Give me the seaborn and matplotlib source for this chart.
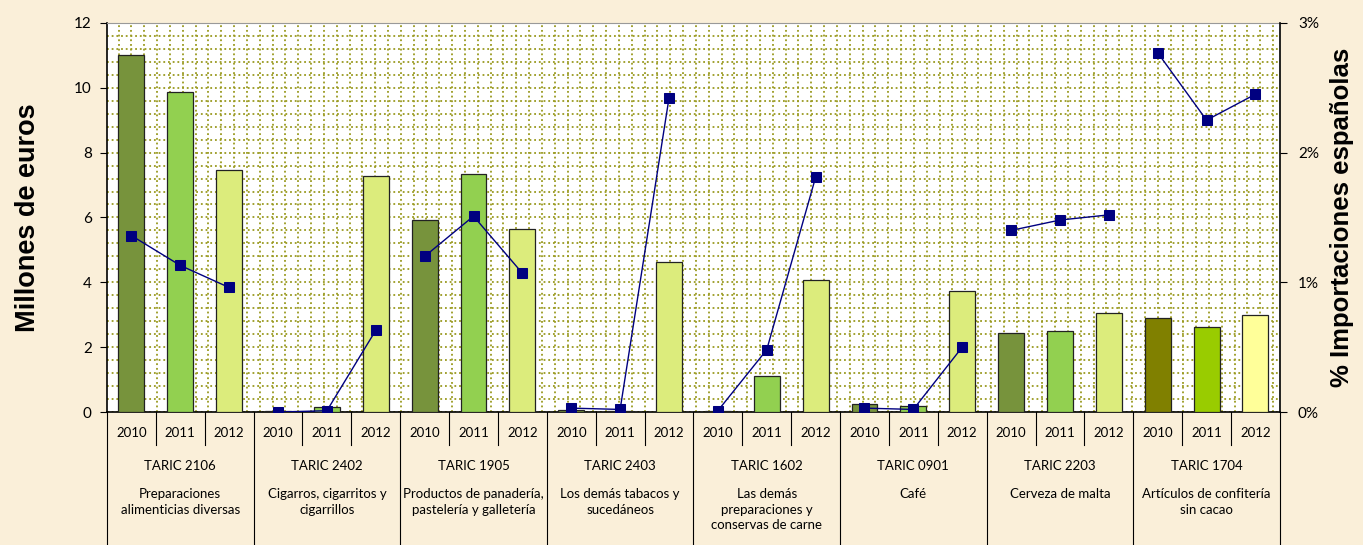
import matplotlib
matplotlib.use("Agg")
import matplotlib.pyplot as plt
import matplotlib.transforms as mtransforms
from matplotlib.ticker import MultipleLocator, FuncFormatter
import pandas as pd
import seaborn as sns

years = ["2010", "2011", "2012"]
taric = ["TARIC 2106", "TARIC 2402", "TARIC 1905", "TARIC 2403",
         "TARIC 1602", "TARIC 0901", "TARIC 2203", "TARIC 1704"]
descr = ["Preparaciones\nalimenticias diversas",
         "Cigarros, cigarritos y\ncigarrillos",
         "Productos de panadería,\npastelería y galletería",
         "Los demás tabacos y\nsucedáneos",
         "Las demás\npreparaciones y\nconservas de carne",
         "Café",
         "Cerveza de malta",
         "Artículos de confitería\nsin cacao"]

# millones de euros, 2010/2011/2012 per TARIC
millones = [11.0, 9.88, 7.47,
            0.02, 0.15, 7.28,
            5.93, 7.35, 5.65,
            0.05, 0.03, 4.63,
            0.02, 1.11, 4.07,
            0.25, 0.20, 3.73,
            2.44, 2.50, 3.06,
            2.90, 2.62, 2.99]

# % importaciones españolas
pct = [1.36, 1.13, 0.96,
       0.00, 0.01, 0.63,
       1.20, 1.51, 1.07,
       0.03, 0.02, 2.42,
       0.01, 0.48, 1.81,
       0.03, 0.02, 0.50,
       1.40, 1.48, 1.52,
       2.77, 2.25, 2.45]

bar_colors = ["#77933C", "#92D050", "#DCEC7C"] * 7 + ["#808000", "#99CC00", "#FFFF99"]

n = len(millones)
df = pd.DataFrame({
    "slot": list(range(n)),
    "millones": millones,
    "pct": pct,
    "grupo": [taric[i // 3] for i in range(n)],
})

plt.rcParams["font.family"] = ["Lato", "DejaVu Sans"]

fig = plt.figure(figsize=(13.63, 5.45), dpi=100)
fig.patch.set_facecolor("#FAEFD9")
ax = fig.add_axes([0.0785, 0.244, 0.8605, 0.714])
ax.set_facecolor("white")

sns.barplot(data=df, x="slot", y="millones", hue="slot", palette=bar_colors,
            legend=False, width=0.53, edgecolor="#222222", linewidth=0.9,
            saturation=1, ax=ax, zorder=3)
ax.set_xlim(-0.5, n - 0.5)
ax.set_ylim(0, 12)
ax.set_xticks([])
ax.yaxis.set_major_locator(MultipleLocator(2))
ax.yaxis.set_minor_locator(MultipleLocator(0.4))
ax.xaxis.set_minor_locator(MultipleLocator(0.2625))
grid_kw = dict(color="#9A9A20", linestyle=(0, (1, 1.6)), linewidth=1.3, zorder=0)
ax.grid(which="minor", **grid_kw)
ax.grid(which="major", axis="y", **grid_kw)
ax.set_axisbelow(True)
ax.tick_params(axis="x", which="both", length=0, labelbottom=False)
ax.tick_params(axis="y", which="minor", length=0)
ax.tick_params(axis="y", which="major", length=5, direction="out", labelsize=11, pad=6)
ax.set_xlabel("")
ax.set_ylabel("Millones de euros", fontsize=19.5, fontweight="bold",
              family="Liberation Sans", labelpad=24)
for s in ["left", "bottom"]:
    ax.spines[s].set_color("black")
    ax.spines[s].set_linewidth(1.2)
ax.spines["top"].set_color("#999999")
ax.spines["right"].set_visible(False)

ax2 = ax.twinx()
sns.lineplot(data=df, x="slot", y="pct", hue="grupo", palette=["#000080"] * len(taric),
             marker="s", markersize=6.5, markeredgecolor="#000080", linewidth=1.0,
             legend=False, ax=ax2, zorder=5)
ax2.set_ylim(0, 3)
ax2.set_xlim(-0.5, n - 0.5)
ax2.yaxis.set_major_locator(MultipleLocator(1))
ax2.yaxis.set_major_formatter(FuncFormatter(lambda v, p: f"{v:.0f}%"))
ax2.tick_params(axis="y", length=5, direction="out", labelsize=11, pad=8)
ax2.set_ylabel("% Importaciones españolas", fontsize=18.5, fontweight="bold",
               family="Liberation Sans", labelpad=8)
ax2.set_xlabel("")
ax2.spines["right"].set_color("black")
ax2.spines["right"].set_linewidth(1.2)
for s in ["left", "top", "bottom"]:
    ax2.spines[s].set_visible(False)

# category table under the axis
tr = mtransforms.blended_transform_factory(ax.transData, ax.transAxes)
for i in range(n):
    ax.text(i, -0.054, years[i % 3], transform=tr, ha="center", va="center", fontsize=9.5)
for k in range(n + 1):
    x = k - 0.5
    y_end = -0.342 if k % 3 == 0 else -0.085
    ax.plot([x, x], [0, y_end], transform=tr, color="black", lw=0.8, clip_on=False)
for g in range(len(taric)):
    xc = g * 3 + 1
    ax.text(xc, -0.139, taric[g], transform=tr, ha="center", va="center", fontsize=9.5)
    ax.text(xc, -0.196, descr[g], transform=tr, ha="center", va="top", fontsize=9.5,
            linespacing=1.35)

fig.savefig("out.png", dpi=100, facecolor=fig.get_facecolor())
